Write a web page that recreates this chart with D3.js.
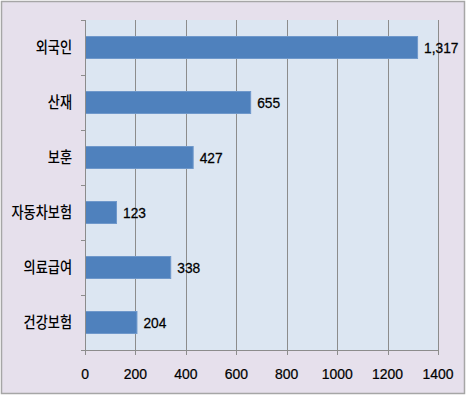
<!DOCTYPE html>
<html>
<head>
<meta charset="utf-8">
<script src="https://cdn.jsdelivr.net/npm/d3@7"></script>
<style>
  html, body { margin: 0; padding: 0; background: #ffffff; }
  svg { display: block; }
</style>
</head>
<body>
<script>
const categories = ["외국인", "산재", "보훈", "자동차보험", "의료급여", "건강보험"];
const values = [1317, 655, 427, 123, 338, 204];
const xTicks = [0, 200, 400, 600, 800, 1000, 1200, 1400];

const W = 467, H = 401;
const plot = { left: 85, right: 438, top: 20, bottom: 350 };

const svg = d3.select("body").append("svg").attr("width", W).attr("height", H);

// outer frame
svg.append("rect")
  .attr("x", 1.5).attr("y", 1.5).attr("width", 463).attr("height", 392)
  .attr("fill", "#E6E0EC").attr("stroke", "#A6A6A6").attr("stroke-width", 1.5);

const x = d3.scaleLinear().domain([0, 1400]).range([plot.left, plot.right]);
const y = d3.scaleBand().domain(categories).range([plot.top, plot.bottom]).paddingInner(0.6).paddingOuter(0.3);
const yb = d3.scaleBand().domain(categories).range([plot.top, plot.bottom]);

// plot area
svg.append("rect")
  .attr("x", plot.left).attr("y", plot.top)
  .attr("width", plot.right - plot.left).attr("height", plot.bottom - plot.top)
  .attr("fill", "#DCE6F2");

// gridlines (extend below axis as tick marks)
svg.append("g").selectAll("line").data(xTicks.slice(1)).join("line")
  .attr("x1", d => Math.round(x(d)) + 0.5).attr("x2", d => Math.round(x(d)) + 0.5)
  .attr("y1", plot.top).attr("y2", plot.bottom + 5)
  .attr("stroke", "#8C8C8C").attr("stroke-width", 1);

// bars
svg.append("g").selectAll("rect").data(categories).join("rect")
  .attr("x", x(0) + 0.5)
  .attr("y", d => y(d))
  .attr("width", (d, i) => x(values[i]) - x(0))
  .attr("height", y.bandwidth())
  .attr("fill", "#4F81BD").attr("stroke", "#6F98CB").attr("stroke-width", 1);

// value labels
svg.append("g").selectAll("text").data(categories).join("text")
  .attr("transform", (d, i) => `translate(${x(values[i]) + 7},${y(d) + y.bandwidth() / 2}) scale(0.95,1)`)
  .attr("dy", "0.36em")
  .attr("font-family", "'Liberation Sans Narrow', 'Liberation Sans', sans-serif")
  .attr("font-size", 14.5)
  .attr("fill", "#000")
  .attr("stroke", "#000").attr("stroke-width", 0.25)
  .text((d, i) => d3.format(",")(values[i]));

// y axis line and ticks
const ax = svg.append("g").attr("stroke", "#8C8C8C").attr("stroke-width", 1);
ax.append("line").attr("x1", plot.left + 0.5).attr("x2", plot.left + 0.5)
  .attr("y1", plot.top).attr("y2", plot.bottom + 5);
ax.selectAll("line.yt").data(categories.concat(["__end"])).join("line").attr("class", "yt")
  .attr("x1", plot.left - 4).attr("x2", plot.left)
  .attr("y1", d => (d === "__end" ? plot.bottom : yb(d)) + 0.5)
  .attr("y2", d => (d === "__end" ? plot.bottom : yb(d)) + 0.5);
// x axis line
ax.append("line").attr("x1", plot.left - 4).attr("x2", plot.right)
  .attr("y1", plot.bottom + 0.5).attr("y2", plot.bottom + 0.5);

// category labels
svg.append("g").selectAll("text").data(categories).join("text")
  .attr("transform", d => `translate(${plot.left - 13},${yb(d) + yb.bandwidth() / 2}) scale(0.85,1)`)
  .attr("dy", "0.36em")
  .attr("text-anchor", "end")
  .attr("font-family", "'Noto Sans CJK KR', sans-serif")
  .attr("font-size", 15.5)
  .attr("font-weight", 500)
  .attr("fill", "#000")
  .text(d => d);

// x tick labels
svg.append("g").selectAll("text").data(xTicks).join("text")
  .attr("transform", d => `translate(${x(d)},${373}) scale(0.9,1)`)
  .attr("dy", "0.36em")
  .attr("text-anchor", "middle")
  .attr("font-family", "'Liberation Sans Narrow', 'Liberation Sans', sans-serif")
  .attr("font-size", 15.5)
  .attr("fill", "#000")
  .attr("stroke", "#000").attr("stroke-width", 0.25)
  .text(d => d);
</script>
</body>
</html>
